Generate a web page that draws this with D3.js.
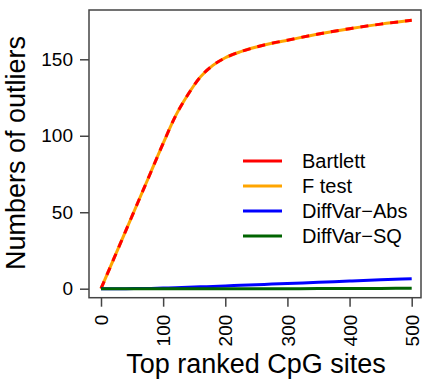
<!DOCTYPE html>
<html>
<head>
<meta charset="utf-8">
<script src="https://cdn.jsdelivr.net/npm/d3@7"></script>
<style>
  body { margin: 0; background: #fff; }
  text { font-family: "Liberation Sans", Arial, sans-serif; fill: #000; }
</style>
</head>
<body>
<svg id="chart" width="424" height="379"></svg>
<script>
// top ranked sites (x) and number of outliers per method
var sites    = [0, 20, 40, 60, 80, 100, 120, 140, 160, 180, 200, 225, 250, 275, 300, 350, 400, 450, 500];
var bartlett = [0, 19, 38, 57, 76, 95, 113, 127, 138.5, 146, 151, 155, 158, 160.5, 162.5, 166.5, 170, 173, 175.5];
var fTest    = [0, 19, 38, 57, 76, 95, 113, 127, 138.5, 146, 151, 155, 158, 160.5, 162.5, 166.5, 170, 173, 175.5];
var diffAbs  = [0, 0, 0, 0.1, 0.2, 0.4, 0.6, 0.9, 1.2, 1.5, 1.8, 2.2, 2.6, 3, 3.4, 4.2, 5, 5.8, 6.5];
var diffSq   = [0, 0, 0, 0, 0, 0, 0, 0, 0, 0, 0, 0, 0, 0, 0, 0.1, 0.15, 0.2, 0.25];

var xTicks = [0, 100, 200, 300, 400, 500];
var yTicks = [0, 50, 100, 150];
var legendNames = ["Bartlett", "F test", "DiffVar\u2212Abs", "DiffVar\u2212SQ"];
var colors = ["#ff0000", "#ffa500", "#0000ff", "#006400"];

var svg = d3.select("#chart");

var x = d3.scaleLinear().domain([0, 500]).range([101, 411.7]);
var y = d3.scaleLinear().domain([0, 150]).range([288.7, 59.3]);

var box = { left: 89, top: 10, right: 421, bottom: 297.7 };

function toPts(vals) {
  return sites.map(function(s, i) { return [s, vals[i]]; });
}

var line = d3.line()
    .x(function(d) { return x(d[0]); })
    .y(function(d) { return y(d[1]); })
    .curve(d3.curveMonotoneX);

// lines: orange under red dashes, blue then green
svg.append("path").attr("d", line(toPts(fTest)))
    .attr("fill", "none").attr("stroke", colors[1]).attr("stroke-width", 3);
svg.append("path").attr("d", line(toPts(bartlett)))
    .attr("fill", "none").attr("stroke", colors[0]).attr("stroke-width", 3)
    .attr("stroke-dasharray", "8,7");
svg.append("path").attr("d", line(toPts(diffAbs)))
    .attr("fill", "none").attr("stroke", colors[2]).attr("stroke-width", 3);
svg.append("path").attr("d", line(toPts(diffSq)))
    .attr("fill", "none").attr("stroke", colors[3]).attr("stroke-width", 3);

// frame
svg.append("rect")
    .attr("x", box.left).attr("y", box.top)
    .attr("width", box.right - box.left).attr("height", box.bottom - box.top)
    .attr("fill", "none").attr("stroke", "#444").attr("stroke-width", 1.5);

// y axis
var yAxis = svg.append("g")
    .attr("transform", "translate(" + box.left + ",0)")
    .call(d3.axisLeft(y).tickValues(yTicks).tickSize(9).tickPadding(7));
yAxis.select(".domain").remove();
yAxis.selectAll(".tick line").attr("stroke", "#444").attr("stroke-width", 1.5);
yAxis.selectAll(".tick text").attr("font-size", 19)
    .style("font-family", "'Liberation Sans', Arial, sans-serif").attr("fill", "#000");

// x axis, labels rotated
var xAxis = svg.append("g")
    .attr("transform", "translate(0," + box.bottom + ")")
    .call(d3.axisBottom(x).tickValues(xTicks).tickSize(9).tickPadding(8));
xAxis.select(".domain").remove();
xAxis.selectAll(".tick line").attr("stroke", "#444").attr("stroke-width", 1.5);
xAxis.selectAll(".tick text")
    .attr("font-size", 19)
    .style("font-family", "'Liberation Sans', Arial, sans-serif").attr("fill", "#000")
    .attr("transform", "rotate(-90)")
    .attr("x", -17).attr("y", 0).attr("dy", "0.35em")
    .attr("text-anchor", "end");

// axis titles
svg.append("text")
    .attr("x", 256).attr("y", 373)
    .attr("text-anchor", "middle").attr("font-size", 27)
    .text("Top ranked CpG sites");
svg.append("text")
    .attr("transform", "translate(25,153) rotate(-90)")
    .attr("text-anchor", "middle").attr("font-size", 27)
    .text("Numbers of outliers");

// legend
var legend = svg.append("g");
legendNames.forEach(function(name, i) {
  var ly = 161 + i * 25;
  legend.append("line")
      .attr("x1", 243).attr("x2", 282).attr("y1", ly).attr("y2", ly)
      .attr("stroke", colors[i]).attr("stroke-width", 3);
  legend.append("text")
      .attr("x", 302).attr("y", ly).attr("dy", "0.35em")
      .attr("font-size", 20)
      .text(name);
});
</script>
</body>
</html>
